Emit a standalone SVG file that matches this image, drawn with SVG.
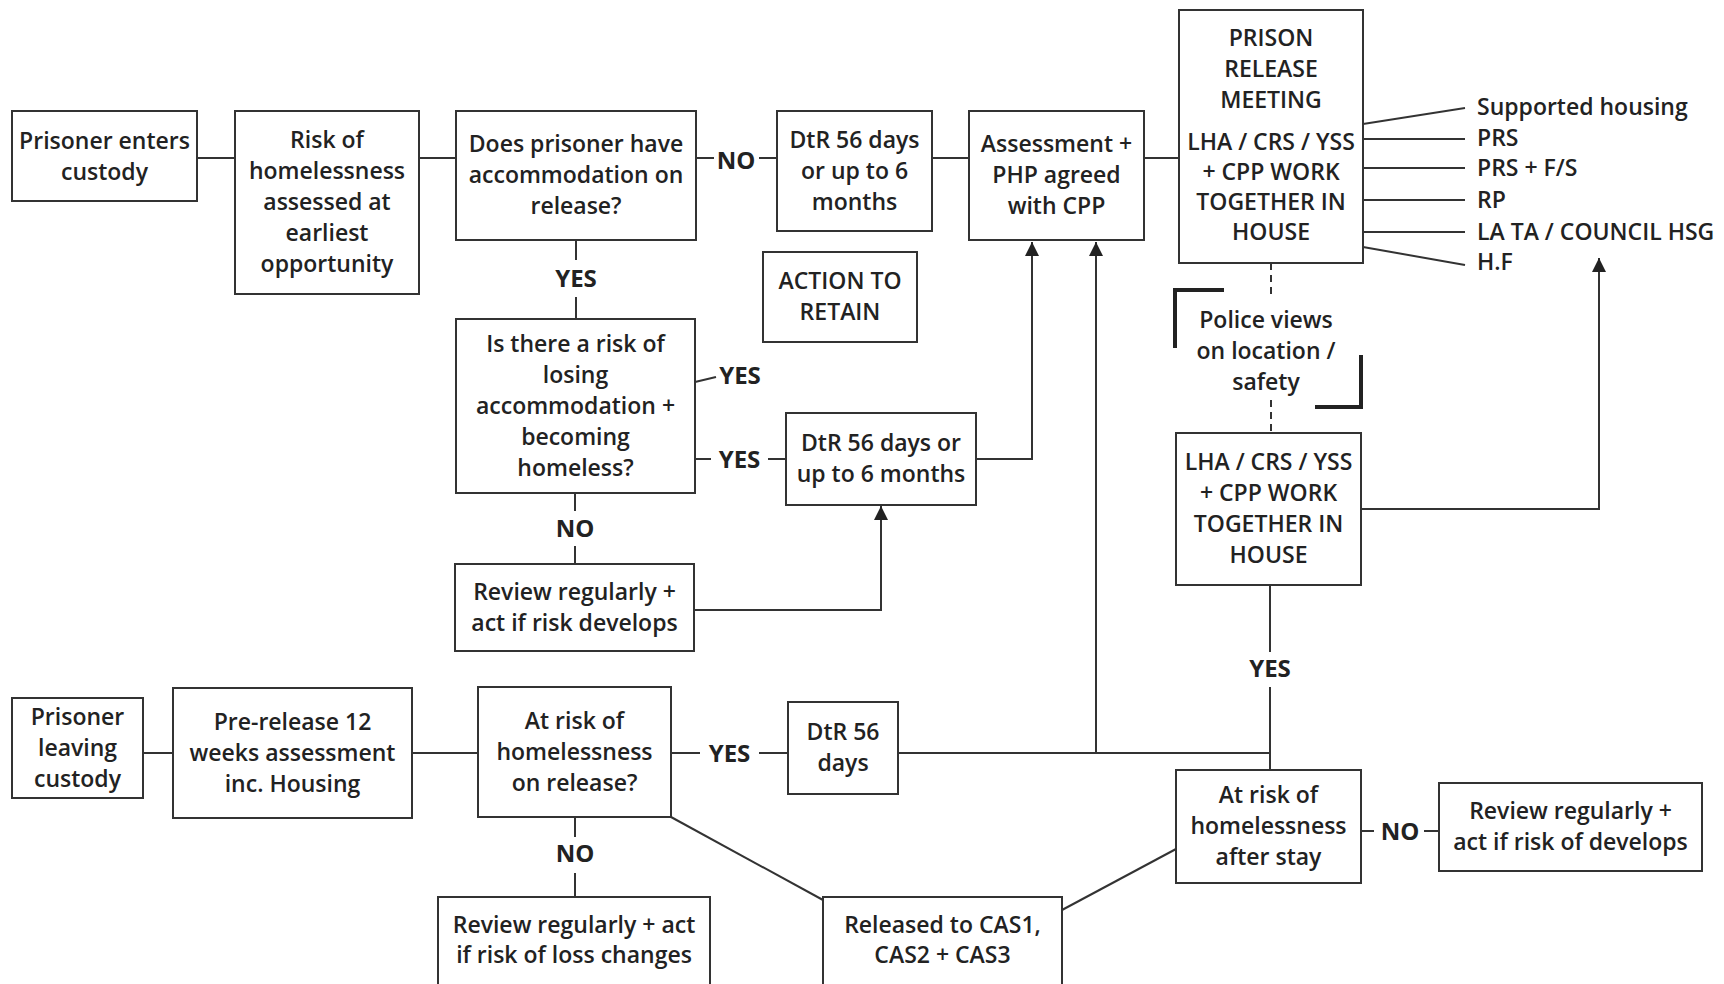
<svg xmlns="http://www.w3.org/2000/svg" width="1724" height="984" viewBox="0 0 1724 984">
<style>
.b{fill:#fff;stroke:#333;stroke-width:2}
.t{font-family:"Open Sans","Liberation Sans",sans-serif;font-weight:600;font-size:23px;fill:#222;text-anchor:middle}
.o{font-family:"Open Sans","Liberation Sans",sans-serif;font-weight:600;font-size:23px;fill:#222;text-anchor:start}
.lb{font-family:"Open Sans","Liberation Sans",sans-serif;font-weight:700;font-size:24px;fill:#222;text-anchor:middle}
.c{fill:none;stroke:#333;stroke-width:2}
.d{fill:none;stroke:#333;stroke-width:2;stroke-dasharray:7 5}
.br{fill:none;stroke:#222;stroke-width:4}
</style>
<defs>
<marker id="ah" markerUnits="userSpaceOnUse" markerWidth="16" markerHeight="14" refX="14" refY="7" orient="auto">
<path d="M0,0 L14,7 L0,14 Z" fill="#222"/>
</marker>
</defs>
<rect width="1724" height="984" fill="#fff"/>
<g id="connectors">
<path class="c" d="M197,158 H235"/>
<path class="c" d="M419,158 H456"/>
<path class="c" d="M696,158 H714"/>
<path class="c" d="M759,158 H777"/>
<path class="c" d="M932,158 H969"/>
<path class="c" d="M1144,158 H1179"/>
<path class="c" d="M576,240 V260"/>
<path class="c" d="M576,297 V319"/>
<path class="c" d="M695,382 L716,377"/>
<path class="c" d="M695,459 H711"/>
<path class="c" d="M768,459 H786"/>
<path class="c" d="M976,459 H1032 V242" marker-end="url(#ah)"/>
<path class="c" d="M575,493 V511"/>
<path class="c" d="M575,546 V564"/>
<path class="c" d="M694,610 H881 V506" marker-end="url(#ah)"/>
<path class="c" d="M1363,124 L1465,108"/>
<path class="c" d="M1363,139 H1465"/>
<path class="c" d="M1363,168 H1465"/>
<path class="c" d="M1363,200 H1465"/>
<path class="c" d="M1363,232 H1465"/>
<path class="c" d="M1363,247 L1465,265"/>
<path class="d" d="M1271,263 V299"/>
<path class="d" d="M1271,400 V433"/>
<path class="br" d="M1175,348 V290 H1224"/>
<path class="br" d="M1315,407 H1361 V355"/>
<path class="c" d="M1361,509 H1599 V258" marker-end="url(#ah)"/>
<path class="c" d="M1270,585 V652"/>
<path class="c" d="M1270,687 V770"/>
<path class="c" d="M898,753 H1270"/>
<path class="c" d="M1096,753 V242" marker-end="url(#ah)"/>
<path class="c" d="M143,753 H173"/>
<path class="c" d="M412,753 H478"/>
<path class="c" d="M671,753 H700"/>
<path class="c" d="M759,753 H788"/>
<path class="c" d="M575,817 V837"/>
<path class="c" d="M575,873 V897"/>
<path class="c" d="M671,817 L823,900"/>
<path class="c" d="M1062,910 L1176,849"/>
<path class="c" d="M1361,831 H1374"/>
<path class="c" d="M1424,831 H1439"/>
</g>
<g id="labels">
<text class="lb" x="736" y="168.5">NO</text>
<text class="lb" x="576" y="286.5">YES</text>
<text class="lb" x="740" y="383.5">YES</text>
<text class="lb" x="739.5" y="467.5">YES</text>
<text class="lb" x="575" y="536.5">NO</text>
<text class="lb" x="1270" y="676.5">YES</text>
<text class="lb" x="729.5" y="761.5">YES</text>
<text class="lb" x="575" y="861.5">NO</text>
<text class="lb" x="1400" y="839.5">NO</text>
</g>
<g id="nodeA"><rect class="b" x="12" y="111" width="185" height="90"/>
<text class="t" x="104.5" y="148.5">Prisoner enters</text><text class="t" x="104.5" y="179.5">custody</text></g>
<g id="nodeB"><rect class="b" x="235" y="111" width="184" height="183"/>
<text class="t" x="327" y="148">Risk of</text><text class="t" x="327" y="179">homelessness</text><text class="t" x="327" y="210">assessed at</text><text class="t" x="327" y="241">earliest</text><text class="t" x="327" y="272">opportunity</text></g>
<g id="nodeC"><rect class="b" x="456" y="111" width="240" height="129"/>
<text class="t" x="576" y="152">Does prisoner have</text><text class="t" x="576" y="183">accommodation on</text><text class="t" x="576" y="214">release?</text></g>
<g id="nodeD"><rect class="b" x="777" y="111" width="155" height="120"/>
<text class="t" x="854.5" y="147.5">DtR 56 days</text><text class="t" x="854.5" y="178.5">or up to 6</text><text class="t" x="854.5" y="209.5">months</text></g>
<g id="nodeE"><rect class="b" x="969" y="111" width="175" height="129"/>
<text class="t" x="1056.5" y="152">Assessment +</text><text class="t" x="1056.5" y="183">PHP agreed</text><text class="t" x="1056.5" y="214">with CPP</text></g>
<g id="nodeF"><rect class="b" x="1179" y="10" width="184" height="253"/>
<text class="t" x="1271" y="45.5">PRISON</text><text class="t" x="1271" y="76.5">RELEASE</text><text class="t" x="1271" y="107.5">MEETING</text>
<text class="t" x="1271" y="149.5">LHA / CRS / YSS</text><text class="t" x="1271" y="179.5">+ CPP WORK</text><text class="t" x="1271" y="209.5">TOGETHER IN</text><text class="t" x="1271" y="239.5">HOUSE</text></g>
<g id="options">
<text class="o" x="1477" y="114.5">Supported housing</text>
<text class="o" x="1477" y="145.5">PRS</text>
<text class="o" x="1477" y="175.5">PRS + F/S</text>
<text class="o" x="1477" y="207.5">RP</text>
<text class="o" x="1477" y="239.5">LA TA / COUNCIL HSG</text>
<text class="o" x="1477" y="269.5">H.F</text>
</g>
<g id="nodeG"><rect class="b" x="763" y="252" width="154" height="90"/>
<text class="t" x="840" y="289">ACTION TO</text><text class="t" x="840" y="320">RETAIN</text></g>
<g id="police">
<text class="t" x="1266" y="327.5">Police views</text><text class="t" x="1266" y="358.5">on location /</text><text class="t" x="1266" y="389.5">safety</text></g>
<g id="nodeH"><rect class="b" x="456" y="319" width="239" height="174"/>
<text class="t" x="575.5" y="351.5">Is there a risk of</text><text class="t" x="575.5" y="382.5">losing</text><text class="t" x="575.5" y="413.5">accommodation +</text><text class="t" x="575.5" y="444.5">becoming</text><text class="t" x="575.5" y="475.5">homeless?</text></g>
<g id="nodeI"><rect class="b" x="786" y="413" width="190" height="92"/>
<text class="t" x="881" y="451">DtR 56 days or</text><text class="t" x="881" y="482">up to 6 months</text></g>
<g id="nodeJ"><rect class="b" x="455" y="564" width="239" height="87"/>
<text class="t" x="574.5" y="599.5">Review regularly +</text><text class="t" x="574.5" y="630.5">act if risk develops</text></g>
<g id="nodeK"><rect class="b" x="1176" y="433" width="185" height="152"/>
<text class="t" x="1268.5" y="470">LHA / CRS / YSS</text><text class="t" x="1268.5" y="501">+ CPP WORK</text><text class="t" x="1268.5" y="532">TOGETHER IN</text><text class="t" x="1268.5" y="563">HOUSE</text></g>
<g id="nodeL"><rect class="b" x="1176" y="770" width="185" height="113"/>
<text class="t" x="1268.5" y="803">At risk of</text><text class="t" x="1268.5" y="834">homelessness</text><text class="t" x="1268.5" y="865">after stay</text></g>
<g id="nodeM"><rect class="b" x="12" y="698" width="131" height="100"/>
<text class="t" x="77.5" y="724.5">Prisoner</text><text class="t" x="77.5" y="755.5">leaving</text><text class="t" x="77.5" y="786.5">custody</text></g>
<g id="nodeN"><rect class="b" x="173" y="688" width="239" height="130"/>
<text class="t" x="292.5" y="729.5">Pre-release 12</text><text class="t" x="292.5" y="760.5">weeks assessment</text><text class="t" x="292.5" y="791.5">inc. Housing</text></g>
<g id="nodeO"><rect class="b" x="478" y="687" width="193" height="130"/>
<text class="t" x="574.5" y="728.5">At risk of</text><text class="t" x="574.5" y="759.5">homelessness</text><text class="t" x="574.5" y="790.5">on release?</text></g>
<g id="nodeP"><rect class="b" x="788" y="702" width="110" height="92"/>
<text class="t" x="843" y="740">DtR 56</text><text class="t" x="843" y="771">days</text></g>
<g id="nodeQ"><rect class="b" x="438" y="897" width="272" height="100"/>
<text class="t" x="574" y="932.5">Review regularly + act</text><text class="t" x="574" y="962.5">if risk of loss changes</text></g>
<g id="nodeR"><rect class="b" x="823" y="897" width="239" height="100"/>
<text class="t" x="942.5" y="932.5">Released to CAS1,</text><text class="t" x="942.5" y="962.5">CAS2 + CAS3</text></g>
<g id="nodeS"><rect class="b" x="1439" y="783" width="263" height="88"/>
<text class="t" x="1570.5" y="819">Review regularly +</text><text class="t" x="1570.5" y="850">act if risk of develops</text></g>
</svg>
